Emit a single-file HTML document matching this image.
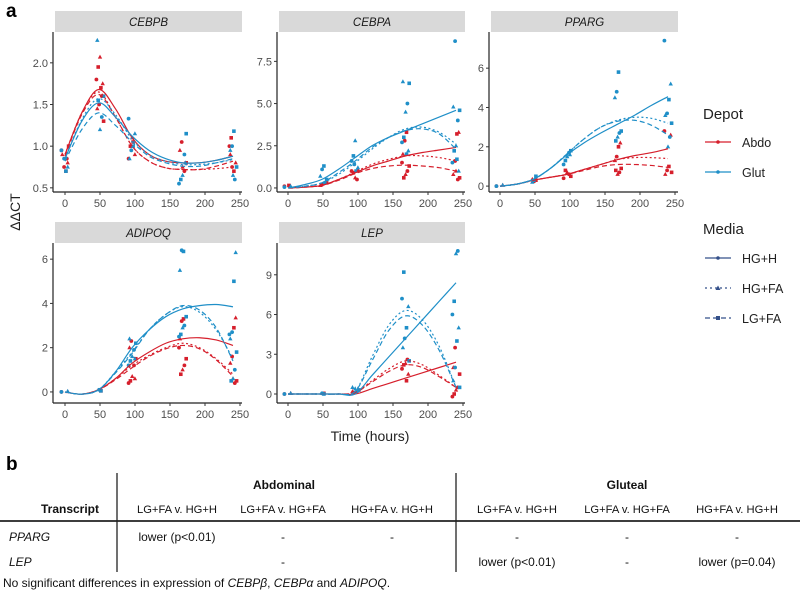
<!DOCTYPE html>
<html><head><meta charset="utf-8"><style>
body{margin:0;background:#fff;font-family:"Liberation Sans",sans-serif}
svg text{font-family:"Liberation Sans",sans-serif}
</style></head><body>
<svg id="c" width="800" height="595" viewBox="0 0 800 595" xmlns="http://www.w3.org/2000/svg">
<text x="6" y="17" font-size="19" font-weight="bold">a</text>
<text x="6" y="470" font-size="19" font-weight="bold">b</text>
<text transform="translate(20,212) rotate(-90)" text-anchor="middle" font-size="14" fill="#222">ΔΔCT</text>
<text x="370" y="441" text-anchor="middle" font-size="14" fill="#222">Time (hours)</text>
<g>
<text x="703" y="119" font-size="15" fill="#222">Depot</text>
<g><line x1="705" y1="142" x2="731" y2="142" stroke="#d61f2c" stroke-width="1.3"/><circle cx="718" cy="142" r="1.8" fill="#d61f2c"/><text x="742" y="147" font-size="12.5" fill="#222">Abdo</text></g>
<g><line x1="705" y1="172" x2="731" y2="172" stroke="#1f8fc8" stroke-width="1.3"/><circle cx="718" cy="172" r="1.8" fill="#1f8fc8"/><text x="742" y="177" font-size="12.5" fill="#222">Glut</text></g>
<text x="703" y="234" font-size="15" fill="#222">Media</text>
<g><line x1="705" y1="258" x2="731" y2="258" stroke="#34508a" stroke-width="1.3"/><circle cx="718" cy="258" r="1.8" fill="#34508a"/><text x="742" y="263" font-size="12.5" fill="#222">HG+H</text></g>
<g><line x1="705" y1="288" x2="731" y2="288" stroke="#34508a" stroke-width="1.3" stroke-dasharray="2,3"/><path d="M718,285.5 L720.5,290 L715.5,290Z" fill="#34508a"/><text x="742" y="293" font-size="12.5" fill="#222">HG+FA</text></g>
<g><line x1="705" y1="318" x2="731" y2="318" stroke="#34508a" stroke-width="1.3" stroke-dasharray="5,3"/><rect x="716" y="316" width="4" height="4" fill="#34508a"/><text x="742" y="323" font-size="12.5" fill="#222">LG+FA</text></g>
</g>
<g font-size="12" fill="#111">
<line x1="117" y1="473" x2="117" y2="572" stroke="#222" stroke-width="1.3"/>
<line x1="456" y1="473" x2="456" y2="572" stroke="#222" stroke-width="1.3"/>
<line x1="0" y1="521" x2="800" y2="521" stroke="#222" stroke-width="1.8"/>
<text x="284" y="489" text-anchor="middle" font-weight="bold">Abdominal</text>
<text x="627" y="489" text-anchor="middle" font-weight="bold">Gluteal</text>
<text x="70" y="513" text-anchor="middle" font-weight="bold">Transcript</text>
<g text-anchor="middle" font-size="11.2">
<text x="177" y="513">LG+FA v. HG+H</text><text x="283" y="513">LG+FA v. HG+FA</text><text x="392" y="513">HG+FA v. HG+H</text>
<text x="517" y="513">LG+FA v. HG+H</text><text x="627" y="513">LG+FA v. HG+FA</text><text x="737" y="513">HG+FA v. HG+H</text>
</g>
<text x="9" y="541" font-style="italic">PPARG</text>
<text x="9" y="566" font-style="italic">LEP</text>
<g text-anchor="middle">
<text x="177" y="541">lower (p&lt;0.01)</text><text x="283" y="541">-</text><text x="392" y="541">-</text><text x="517" y="541">-</text><text x="627" y="541">-</text><text x="737" y="541">-</text>
<text x="283" y="566">-</text><text x="517" y="566">lower (p&lt;0.01)</text><text x="627" y="566">-</text><text x="737" y="566">lower (p=0.04)</text>
</g>
<text x="3" y="587" font-size="12">No significant differences in expression of <tspan font-style="italic">CEBPβ</tspan>, <tspan font-style="italic">CEBPα</tspan> and <tspan font-style="italic">ADIPOQ</tspan>.</text>
</g>
</svg>
<script>
const curveTimes=[0,24,48,72,96,120,144,168,192,216,240];
// CEBPB
const cebpbAbdoHGH=[0.9,1.4,1.68,1.45,1.1,0.9,0.82,0.8,0.8,0.83,0.88];
const cebpbAbdoHGFA=[0.9,1.4,1.65,1.35,1.0,0.82,0.74,0.72,0.72,0.73,0.75];
const cebpbAbdoLGFA=[0.88,1.38,1.62,1.35,1.0,0.82,0.74,0.72,0.72,0.76,0.82];
const cebpbGlutHGH=[0.85,1.3,1.52,1.35,1.12,0.95,0.85,0.8,0.8,0.83,0.88];
const cebpbGlutHGFA=[0.85,1.32,1.57,1.38,1.08,0.9,0.82,0.78,0.78,0.8,0.84];
const cebpbGlutLGFA=[0.82,1.2,1.4,1.25,1.05,0.88,0.8,0.76,0.76,0.8,0.85];
const cebpbAbdoPts=[[0,0.95],[0,0.8],[0,0.7],[0,0.75],[0,0.9],[0,1.0],[0,0.85],[50,2.07],[50,1.95],[50,1.8],[50,1.75],[50,1.7],[50,1.5],[50,1.45],[50,1.3],[50,1.6],[96,1.1],[96,1.0],[96,0.85],[96,0.9],[96,1.05],[168,1.05],[168,0.95],[168,0.8],[168,0.7],[168,0.75],[240,1.1],[240,1.0],[240,0.8],[240,0.7],[240,0.75],[240,0.9]];
const cebpbGlutPts=[[0,0.95],[0,0.75],[0,0.7],[0,0.85],[50,2.27],[50,1.6],[50,1.35],[50,1.2],[50,1.55],[96,1.33],[96,1.15],[96,1.0],[96,0.95],[96,0.85],[168,1.15],[168,0.9],[168,0.65],[168,0.6],[168,0.55],[168,0.8],[240,1.18],[240,1.0],[240,0.95],[240,0.75],[240,0.6],[240,0.65]];
const cebpbYTicks=[0.5,1.0,1.5,2.0];
// CEBPA
const cebpaAbdoHGH=[0,0.05,0.15,0.5,0.9,1.3,1.6,1.9,2.1,2.25,2.4];
const cebpaAbdoHGFA=[0,0.05,0.15,0.5,0.95,1.4,1.7,1.9,1.9,1.8,1.6];
const cebpaAbdoLGFA=[0,0.05,0.15,0.45,0.85,1.15,1.3,1.35,1.3,1.2,1.0];
const cebpaGlutHGH=[0,0.2,0.5,1.1,1.8,2.5,3.0,3.4,3.8,4.2,4.6];
const cebpaGlutHGFA=[0,0.1,0.3,0.8,1.5,2.3,3.0,3.5,3.6,3.3,2.6];
const cebpaGlutLGFA=[0,0.1,0.3,0.9,1.6,2.4,3.0,3.4,3.5,3.2,2.3];
const cebpaAbdoPts=[[0,0.1],[0,0.05],[0,0.15],[50,0.2],[50,0.15],[50,0.3],[96,0.5],[96,0.6],[96,0.9],[96,1.0],[96,1.1],[168,3.3],[168,2.8],[168,2.0],[168,1.3],[168,1.0],[168,0.8],[168,0.6],[168,1.5],[240,3.3],[240,3.2],[240,1.6],[240,0.8],[240,0.6],[240,0.5],[240,1.0]];
const cebpaGlutPts=[[0,0.05],[0,0.1],[50,1.3],[50,1.1],[50,0.7],[50,0.5],[50,0.3],[96,2.8],[96,1.9],[96,1.6],[96,1.2],[96,1.0],[96,1.4],[168,6.3],[168,6.2],[168,5.0],[168,4.5],[168,3.0],[168,2.7],[168,2.2],[168,2.0],[240,8.7],[240,4.8],[240,4.6],[240,4.0],[240,2.5],[240,2.2],[240,1.5],[240,1.0],[240,1.7]];
const cebpaYTicks=[0,2.5,5,7.5];
// PPARG
const ppargAbdoHGH=[0,0.1,0.3,0.45,0.6,0.85,1.1,1.35,1.55,1.7,1.9];
const ppargAbdoHGFA=[0,0.1,0.3,0.45,0.6,0.85,1.1,1.35,1.45,1.45,1.4];
const ppargAbdoLGFA=[0,0.1,0.3,0.45,0.6,0.8,1.0,1.1,1.1,1.05,0.95];
const ppargGlutHGH=[0,0.1,0.35,0.9,1.6,2.2,2.7,3.15,3.6,4.1,4.55];
const ppargGlutHGFA=[0,0.1,0.35,0.9,1.65,2.4,3.0,3.35,3.5,3.45,3.2];
const ppargGlutLGFA=[0,0.1,0.35,0.9,1.65,2.4,3.0,3.3,3.35,3.1,2.6];
const ppargAbdoPts=[[0,0],[0,0.05],[50,0.3],[50,0.25],[50,0.35],[96,0.5],[96,0.6],[96,0.7],[96,0.8],[96,0.4],[168,2.2],[168,2.0],[168,1.5],[168,1.3],[168,0.9],[168,0.7],[168,0.6],[168,0.8],[240,2.8],[240,2.6],[240,1.0],[240,0.8],[240,0.6],[240,0.7]];
const ppargGlutPts=[[0,0],[0,0.05],[50,0.5],[50,0.3],[50,0.2],[96,1.8],[96,1.7],[96,1.5],[96,1.3],[96,1.1],[96,1.6],[168,5.8],[168,4.8],[168,4.5],[168,2.8],[168,2.7],[168,2.5],[168,2.3],[240,7.4],[240,5.2],[240,4.4],[240,3.7],[240,3.6],[240,3.2],[240,2.5],[240,2.0]];
const ppargYTicks=[0,2,4,6];
// ADIPOQ
const adipoqAbdoHGH=[0,-0.1,0.1,0.6,1.3,1.8,2.2,2.4,2.45,2.35,2.1];
const adipoqAbdoHGFA=[0,-0.1,0.1,0.6,1.2,1.65,2.0,2.2,2.0,1.5,0.8];
const adipoqAbdoLGFA=[0,-0.1,0.1,0.55,1.1,1.6,1.95,2.1,1.95,1.45,0.7];
const adipoqGlutHGH=[0,-0.1,0.1,0.9,2.0,2.8,3.4,3.75,3.9,3.95,3.85];
const adipoqGlutHGFA=[0,-0.1,0.1,0.9,1.8,2.8,3.5,3.85,3.6,2.8,1.5];
const adipoqGlutLGFA=[0,-0.1,0.1,0.85,1.75,2.8,3.5,3.9,3.7,2.9,1.4];
const adipoqAbdoPts=[[0,0],[0,0.02],[50,0.05],[96,2.3],[96,2.0],[96,1.5],[96,1.2],[96,0.7],[96,0.5],[96,0.4],[96,0.6],[168,3.3],[168,3.2],[168,2.4],[168,1.5],[168,1.2],[168,1.0],[168,0.8],[168,2.0],[240,3.35],[240,2.9],[240,1.6],[240,1.3],[240,0.5],[240,0.4],[240,0.6]];
const adipoqGlutPts=[[0,0],[0,0.03],[50,0.05],[50,0.1],[96,2.4],[96,2.2],[96,1.9],[96,1.6],[96,1.4],[96,1.2],[96,1.5],[168,6.35],[168,6.4],[168,5.5],[168,3.4],[168,3.0],[168,2.9],[168,2.6],[168,2.5],[240,6.3],[240,5.0],[240,2.7],[240,2.4],[240,1.8],[240,1.0],[240,0.6],[240,0.5],[240,2.6]];
const adipoqYTicks=[0,2,4,6];
// LEP
const lepAbdoHGH=[0,0,0,0,0,0.4,0.8,1.2,1.6,2.0,2.4];
const lepAbdoHGFA=[0,0,0,0,0.1,1.0,1.9,2.5,2.2,1.4,0.5];
const lepAbdoLGFA=[0,0,0,0,0.1,0.9,1.7,2.2,2.0,1.3,0.5];
const lepGlutHGH=[0,0,0,0,0,1.4,2.8,4.2,5.6,7.0,8.4];
const lepGlutHGFA=[0,0,0,0,0.2,2.8,5.2,6.3,5.6,3.6,0.5];
const lepGlutLGFA=[0,0,0,0,0.2,2.5,4.8,5.9,5.2,3.3,0.5];
const lepAbdoPts=[[0,0],[0,0.05],[50,0.05],[96,0.1],[96,0.2],[96,0.3],[168,2.6],[168,2.3],[168,2.2],[168,1.9],[168,1.5],[168,1.0],[240,3.5],[240,2.0],[240,1.5],[240,0.5],[240,0.3],[240,0.0],[240,-0.2]];
const lepGlutPts=[[0,0],[0,0.05],[50,0],[50,0.05],[96,0.5],[96,0.3],[96,0.2],[96,0.4],[168,9.2],[168,7.2],[168,6.6],[168,5.0],[168,4.2],[168,3.5],[168,2.5],[240,10.8],[240,10.6],[240,7.0],[240,6.0],[240,5.0],[240,4.0],[240,2.0],[240,1.0],[240,0.5]];
const lepYTicks=[0,3,6,9];
const xTicks=[0,50,100,150,200,250];

const panels=[
 {name:'cebpb',title:'CEBPB',col:0,row:0,ymin:0.45,ymax:2.37,yt:cebpbYTicks,fmt:v=>v.toFixed(1),a:[cebpbAbdoHGH,cebpbAbdoHGFA,cebpbAbdoLGFA],g:[cebpbGlutHGH,cebpbGlutHGFA,cebpbGlutLGFA],ap:cebpbAbdoPts,gp:cebpbGlutPts},
 {name:'cebpa',title:'CEBPA',col:1,row:0,ymin:-0.24,ymax:9.24,yt:cebpaYTicks,fmt:v=>v.toFixed(1),a:[cebpaAbdoHGH,cebpaAbdoHGFA,cebpaAbdoLGFA],g:[cebpaGlutHGH,cebpaGlutHGFA,cebpaGlutLGFA],ap:cebpaAbdoPts,gp:cebpaGlutPts},
 {name:'pparg',title:'PPARG',col:2,row:0,ymin:-0.3,ymax:7.84,yt:ppargYTicks,fmt:v=>String(v),a:[ppargAbdoHGH,ppargAbdoHGFA,ppargAbdoLGFA],g:[ppargGlutHGH,ppargGlutHGFA,ppargGlutLGFA],ap:ppargAbdoPts,gp:ppargGlutPts},
 {name:'adipoq',title:'ADIPOQ',col:0,row:1,ymin:-0.5,ymax:6.73,yt:adipoqYTicks,fmt:v=>String(v),a:[adipoqAbdoHGH,adipoqAbdoHGFA,adipoqAbdoLGFA],g:[adipoqGlutHGH,adipoqGlutHGFA,adipoqGlutLGFA],ap:adipoqAbdoPts,gp:adipoqGlutPts},
 {name:'lep',title:'LEP',col:1,row:1,ymin:-0.68,ymax:11.4,yt:lepYTicks,fmt:v=>String(v),a:[lepAbdoHGH,lepAbdoHGFA,lepAbdoLGFA],g:[lepGlutHGH,lepGlutHGFA,lepGlutLGFA],ap:lepAbdoPts,gp:lepGlutPts}
];
const NS='http://www.w3.org/2000/svg';
const svg=document.getElementById('c');
const colAxisX=[53,277,489],colX0=[65,288,500],colRight=[242,465,678];
const rowTop=[32,243],rowBot=[192,403];
const RED='#d61f2c',BLUE='#1f8fc8';
const dashes=['none','2,2.5','5,3'];
function mk(tag,attrs,parent){const e=document.createElementNS(NS,tag);for(const k in attrs)e.setAttribute(k,attrs[k]);(parent||svg).appendChild(e);return e;}
function smooth(pts){let d='M'+pts[0][0]+','+pts[0][1];for(let i=0;i<pts.length-1;i++){const p0=pts[i-1]||pts[i],p1=pts[i],p2=pts[i+1],p3=pts[i+2]||p2;d+=' C'+(p1[0]+(p2[0]-p0[0])/6)+','+(p1[1]+(p2[1]-p0[1])/6)+' '+(p2[0]-(p3[0]-p1[0])/6)+','+(p2[1]-(p3[1]-p1[1])/6)+' '+p2[0]+','+p2[1];}return d;}
panels.forEach(p=>{
 const g=mk('g',{});
 
 
 const ax=colAxisX[p.col],x0=colX0[p.col],xr=colRight[p.col],top=rowTop[p.row],bot=rowBot[p.row];
 const X=t=>x0+t*0.7;
 const Y=v=>bot-(v-p.ymin)/(p.ymax-p.ymin)*(bot-top);
 const strip=mk('rect',{x:ax+2,y:top-21,width:xr-ax-2,height:21,fill:'#d9d9d9'},g);
 
 
 const st=mk('text',{x:(ax+2+xr)/2,y:top-6,'text-anchor':'middle','font-size':'11.5','font-style':'italic',fill:'#1a1a1a'},g);st.textContent=p.title;
 
 
 mk('line',{x1:ax,y1:top,x2:ax,y2:bot,stroke:'#222','stroke-width':1.2},g);
 mk('line',{x1:ax,y1:bot,x2:xr,y2:bot,stroke:'#222','stroke-width':1.2},g);
 p.yt.forEach(v=>{const y=Y(v);mk('line',{x1:ax-3,y1:y,x2:ax,y2:y,stroke:'#333'},g);const t=mk('text',{x:ax-5,y:y+4,'text-anchor':'end','font-size':'11',fill:'#4d4d4d'},g);t.textContent=p.fmt(v);
  
  });
 xTicks.forEach(v=>{const x=X(v);mk('line',{x1:x,y1:bot,x2:x,y2:bot+3,stroke:'#333'},g);const t=mk('text',{x:x,y:bot+15,'text-anchor':'middle','font-size':'11',fill:'#4d4d4d'},g);t.textContent=v;
  
  });
 [[p.ap,RED,'abdo'],[p.gp,BLUE,'glut']].forEach(([pts,col,dn])=>{pts.forEach((d,i)=>{const x=X(d[0])+((i*7)%9-4)*0.9,y=Y(d[1]),s=i%3;let e;
  if(s===0)e=mk('circle',{cx:x,cy:y,r:1.9,fill:col},g);
  else if(s===1)e=mk('path',{d:`M${x},${y-2.4}L${x+2.2},${y+1.6}L${x-2.2},${y+1.6}Z`,fill:col},g);
  else e=mk('rect',{x:x-1.8,y:y-1.8,width:3.6,height:3.6,fill:col},g);
  
  });});
 [[p.a,RED,'abdo'],[p.g,BLUE,'glut']].forEach(([curves,col,dn])=>{curves.forEach((vals,k)=>{const pts=vals.map((v,i)=>[X(curveTimes[i]),Y(v)]);
  const e=mk('path',{d:smooth(pts),fill:'none',stroke:col,'stroke-width':1.2,'stroke-dasharray':dashes[k]},g);
  
  });});
});
</script>
</body></html>
